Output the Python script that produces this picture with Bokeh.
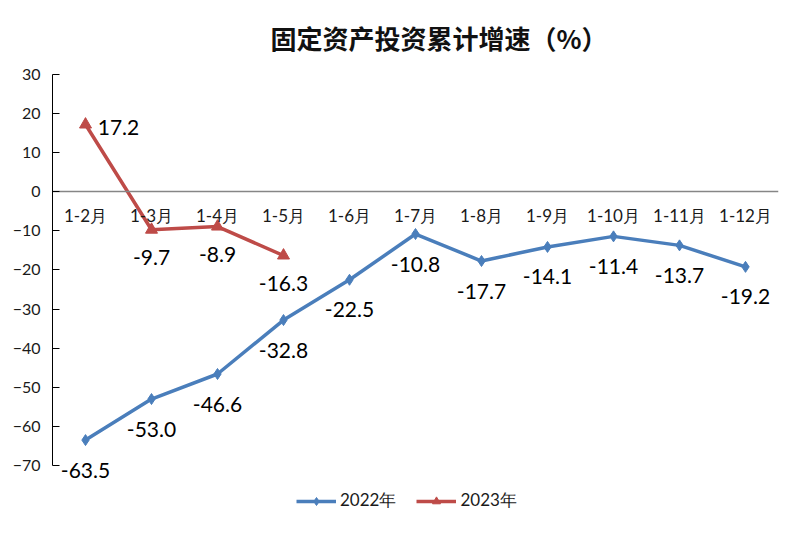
from bokeh.plotting import figure
from bokeh.models import ColumnDataSource, Legend, LegendItem, FixedTicker
from bokeh.embed import file_html
from bokeh.resources import INLINE
from bokeh.core.properties import value

# ---- data ----
categories = ["1-2月", "1-3月", "1-4月", "1-5月", "1-6月", "1-7月",
              "1-8月", "1-9月", "1-10月", "1-11月", "1-12月"]
values_2022 = [-63.5, -53.0, -46.6, -32.8, -22.5, -10.8, -17.7, -14.1, -11.4, -13.7, -19.2]
categories_2023 = ["1-2月", "1-3月", "1-4月", "1-5月"]
values_2023 = [17.2, -9.7, -8.9, -16.3]
y_ticks = [-70, -60, -50, -40, -30, -20, -10, 0, 10, 20, 30]
title_text = "固定资产投资累计增速（%）"

# ---- styles ----
BLUE = "#4A7EBB"
RED = "#BE4B48"
NUM_FONT = "Lato"
CJK_FONT = "Noto Sans CJK SC"
dx_2023 = [33, 0, 0, 0]
dy_2023 = [3, 28, 28, 28]
Y_VIEW_MIN = -83.3   # frame extends below the axis so labels and legend are not clipped

src22 = ColumnDataSource(dict(x=categories, y=values_2022,
                              t=[f"{v:.1f}" for v in values_2022]))
src23 = ColumnDataSource(dict(x=categories_2023, y=values_2023,
                              t=[f"{v:.1f}" for v in values_2023],
                              dx=dx_2023, dy=dy_2023))

p = figure(x_range=categories, y_range=(Y_VIEW_MIN, y_ticks[-1]),
           width=784, height=517, output_backend="svg", toolbar_location=None,
           min_border_left=52, min_border_right=6, min_border_top=74, min_border_bottom=0,
           title=title_text)
p.x_range.range_padding = 0
p.outline_line_color = None
p.background_fill_color = "white"
p.border_fill_color = "white"
p.xgrid.grid_line_color = None
p.ygrid.grid_line_color = None

p.title.text_font = CJK_FONT
p.title.text_font_size = "26px"
p.title.text_font_style = "bold"
p.title.text_color = "#111111"
p.title.align = "left"
p.title.vertical_align = "middle"
p.title.offset = 218
p.title.standoff = 35

# y axis
p.yaxis.ticker = FixedTicker(ticks=y_ticks)
p.yaxis.bounds = (y_ticks[0], y_ticks[-1])
p.yaxis.axis_line_color = "#000000"
p.yaxis.major_tick_line_color = "#000000"
p.yaxis.major_tick_out = 0
p.yaxis.major_tick_in = 7
p.yaxis.minor_tick_line_color = None
p.yaxis.major_label_standoff = 12
p.yaxis.major_label_text_font = NUM_FONT
p.yaxis.major_label_text_font_size = "16px"
p.yaxis.major_label_text_color = "#1a1a1a"

# x axis at y=0
p.xaxis.fixed_location = 0
p.xaxis.axis_line_color = "#868686"
p.xaxis.axis_line_width = 1.5
p.xaxis.major_tick_line_color = None
p.xaxis.minor_tick_line_color = None
p.xaxis.major_tick_out = 0
p.xaxis.major_tick_in = 0
p.xaxis.major_label_standoff = 13
p.xaxis.major_label_text_font = NUM_FONT
p.xaxis.major_label_text_font_size = "17px"
p.xaxis.major_label_text_color = "#1a1a1a"

l22 = p.line("x", "y", source=src22, line_color=BLUE, line_width=3.5)
s22 = p.scatter("x", "y", source=src22, marker="diamond", size=11,
                fill_color=BLUE, line_color=BLUE)
l23 = p.line("x", "y", source=src23, line_color=RED, line_width=3.5)
s23 = p.scatter("x", "y", source=src23, marker="triangle", size=12,
                fill_color=RED, line_color=RED)

p.text("x", "y", text="t", source=src22, text_align="center", text_baseline="middle",
       y_offset=30, text_font=value(NUM_FONT), text_font_size="21px", text_color="#000000")
p.text("x", "y", text="t", source=src23, text_align="center", text_baseline="middle",
       x_offset="dx", y_offset="dy", text_font=value(NUM_FONT), text_font_size="21px",
       text_color="#000000")

legend = Legend(items=[LegendItem(label="2022年", renderers=[l22, s22]),
                       LegendItem(label="2023年", renderers=[l23, s23])],
                orientation="horizontal", location=(244, 5))
legend.border_line_alpha = 0
legend.background_fill_alpha = 0
legend.label_text_font = NUM_FONT
legend.label_text_font_size = "17px"
legend.label_text_color = "#1a1a1a"
legend.glyph_width = 40
legend.glyph_height = 20
legend.spacing = 20
legend.padding = 0
legend.margin = 0
legend.label_standoff = 4
p.add_layout(legend)

open("out.html", "w").write(file_html(p, INLINE))
